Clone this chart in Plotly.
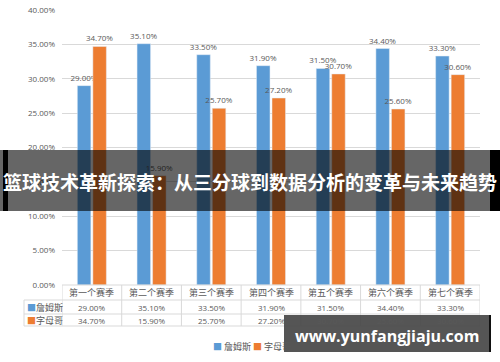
import plotly.graph_objects as go

categories = ["第一个赛季", "第二个赛季", "第三个赛季", "第四个赛季", "第五个赛季", "第六个赛季", "第七个赛季"]
series_names = ["詹姆斯", "字母哥"]
james = [29.00, 35.10, 33.50, 31.90, 31.50, 34.40, 33.30]
giannis = [34.70, 15.90, 25.70, 27.20, 30.70, 25.60, 30.60]
tick_vals = [0, 5, 10, 15, 20, 25, 30, 35, 40]
title_text = "篮球技术革新探索：从三分球到数据分析的变革与未来趋势"
watermark = "www.yunfangjiaju.com"

colors = ["#5b9bd5", "#ed7d31"]
W, H = 500, 362
L, R, T, B = 62, 20, 10, 77
PW, PH = W - L - R, H - T - B

def px(x):
    return (x - L) / PW

def py(y):
    return (H - B - y) / PH

fig = go.Figure()
for name, vals, c in zip(series_names, [james, giannis], colors):
    fig.add_trace(go.Bar(
        x=list(range(len(categories))), y=vals, name=name, marker_color=c,
        text=[f"{v:.2f}%" for v in vals], textposition="outside", constraintext="none",
        textfont=dict(size=8, color="#595959", family="Open Sans"),
        cliponaxis=False, showlegend=False,
    ))

shapes = []
annotations = []
grid = "#d9d9d9"
txt = "#595959"
n = len(categories)

def ann(x, y, text, size, color=txt, family="Open Sans", xref="paper", xanchor="center"):
    annotations.append(dict(x=x, y=y, xref=xref, yref="paper", text=text, showarrow=False,
                            xanchor=xanchor, yanchor="middle",
                            font=dict(size=size, color=color, family=family)))

row_y = [285, 300, 314, 326]
for yy in row_y:
    shapes.append(dict(type="line", xref="x", yref="paper", x0=-0.5, x1=n - 0.5,
                       y0=py(yy), y1=py(yy), line=dict(color=grid, width=1)))
for yy in row_y[1:]:
    shapes.append(dict(type="line", xref="paper", yref="paper", x0=px(24), x1=px(62),
                       y0=py(yy), y1=py(yy), line=dict(color=grid, width=1)))
for k in range(n + 1):
    shapes.append(dict(type="line", xref="x", yref="paper", x0=k - 0.5, x1=k - 0.5,
                       y0=py(285), y1=py(326), line=dict(color=grid, width=1)))
shapes.append(dict(type="line", xref="paper", yref="paper", x0=px(24), x1=px(24),
                   y0=py(300), y1=py(326), line=dict(color=grid, width=1)))

for i, cat in enumerate(categories):
    ann(i, py(292.5), cat, 9, family="Noto Sans CJK SC", xref="x")
    ann(i, py(307), f"{james[i]:.2f}%", 8, xref="x")
    ann(i, py(320), f"{giannis[i]:.2f}%", 8, xref="x")
for j, (name, c) in enumerate(zip(series_names, colors)):
    yy = 307 if j == 0 else 320
    ann(px(25), py(yy), f"<span style='color:{c}'>■</span>{name}", 9,
        family="Noto Sans CJK SC", xanchor="left")
ann(px(211), py(346),
    f"<span style='color:{colors[0]}'>■</span> {series_names[0]} <span style='color:{colors[1]}'>■</span> {series_names[1]}",
    9, family="Noto Sans CJK SC", xanchor="left")

# title banner
shapes.append(dict(type="rect", xref="paper", yref="paper", x0=px(0), x1=px(500), y0=py(211), y1=py(150),
                   fillcolor="rgba(0,0,0,0.6)", line=dict(width=0), layer="above"))
shapes.append(dict(type="rect", xref="paper", yref="paper", x0=px(3), x1=px(8), y0=py(211), y1=py(150),
                   fillcolor="#000000", line=dict(width=0), layer="above"))
shapes.append(dict(type="rect", xref="paper", yref="paper", x0=px(490), x1=px(500), y0=py(211), y1=py(150),
                   fillcolor="#000000", line=dict(width=0), layer="above"))
ann(px(250), py(181), f"<b>{title_text}</b>", 19, color="#ffffff", family="Noto Sans CJK SC")
# watermark
shapes.append(dict(type="rect", xref="paper", yref="paper", x0=px(284), x1=px(490), y0=py(352), y1=py(315),
                   fillcolor="rgba(70,70,70,0.92)", line=dict(width=0), layer="above"))
shapes.append(dict(type="rect", xref="paper", yref="paper", x0=px(489), x1=px(491), y0=py(352), y1=py(315),
                   fillcolor="#111111", line=dict(width=0), layer="above"))
ann(px(387), py(336), f"<b>{watermark}</b>", 16, color="#ffffff", family="Open Sans")

fig.update_layout(
    width=W, height=H, margin=dict(l=L, r=R, t=T, b=B, autoexpand=False),
    paper_bgcolor="white", plot_bgcolor="white",
    barmode="group", bargap=0.48, bargroupgap=0.13,
    shapes=shapes, annotations=annotations, showlegend=False,
    xaxis=dict(range=[-0.5, n - 0.5], showticklabels=False, showgrid=False, zeroline=False,
               ticks="", fixedrange=True, automargin=False),
    yaxis=dict(range=[0, 40], tickvals=tick_vals, ticktext=[f"{v:.2f}%" for v in tick_vals],
               showgrid=True, gridcolor=grid, gridwidth=1, zeroline=False, ticks="",
               automargin=False, fixedrange=True,
               tickfont=dict(size=8, color=txt, family="Open Sans"), ticklabelstandoff=6),
)
fig.write_html("out.html", config={"displayModeBar": False},
               post_script="document.body.style.margin='0';document.body.style.padding='0';")
